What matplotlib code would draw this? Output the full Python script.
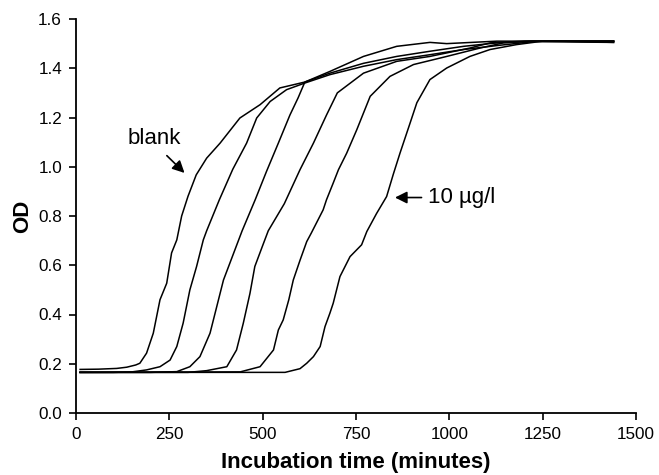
import matplotlib
matplotlib.use("Agg")
import matplotlib.pyplot as plt
from matplotlib.ticker import FormatStrFormatter

plt.rcParams['font.family'] = ['Liberation Sans', 'DejaVu Sans']

# curve 1: blank
t1 = [11, 60, 109, 136, 160, 171, 189, 207, 216, 225, 243, 256, 270, 283, 300, 322, 350, 386, 439, 493, 546, 613, 680, 770, 859, 948, 1038, 1127, 1224, 1300, 1440]
od1 = [0.177, 0.178, 0.181, 0.186, 0.195, 0.202, 0.243, 0.324, 0.392, 0.46, 0.527, 0.65, 0.703, 0.80, 0.88, 0.967, 1.035, 1.096, 1.198, 1.252, 1.32, 1.344, 1.38, 1.42, 1.448, 1.469, 1.489, 1.503, 1.51, 1.51, 1.505]
# curve 2
t2 = [11, 100, 150, 189, 225, 252, 270, 287, 305, 323, 341, 350, 384, 420, 457, 484, 520, 564, 613, 680, 770, 859, 948, 1038, 1127, 1224, 1440]
od2 = [0.165, 0.165, 0.167, 0.175, 0.188, 0.215, 0.27, 0.365, 0.5, 0.595, 0.703, 0.74, 0.866, 0.99, 1.096, 1.198, 1.265, 1.313, 1.34, 1.374, 1.408, 1.435, 1.455, 1.476, 1.492, 1.508, 1.505]
# curve 3
t3 = [11, 200, 270, 305, 332, 359, 377, 395, 410, 430, 445, 480, 510, 542, 573, 595, 613, 680, 770, 859, 948, 993, 1127, 1440]
od3 = [0.165, 0.165, 0.168, 0.188, 0.229, 0.324, 0.432, 0.54, 0.60, 0.68, 0.74, 0.866, 0.98, 1.096, 1.21, 1.28, 1.344, 1.387, 1.448, 1.489, 1.505, 1.50, 1.51, 1.51]
# curve 4
t4 = [11, 300, 350, 404, 430, 448, 466, 479, 500, 515, 558, 600, 636, 671, 700, 770, 859, 948, 1055, 1109, 1200, 1440]
od4 = [0.165, 0.165, 0.172, 0.188, 0.256, 0.364, 0.486, 0.595, 0.68, 0.74, 0.85, 0.988, 1.096, 1.21, 1.30, 1.38, 1.428, 1.448, 1.482, 1.503, 1.51, 1.51]
# curve 5
t5 = [11, 440, 493, 529, 542, 555, 570, 582, 600, 618, 630, 662, 671, 689, 703, 725, 752, 788, 841, 904, 993, 1082, 1145, 1224, 1440]
od5 = [0.165, 0.167, 0.188, 0.256, 0.337, 0.378, 0.46, 0.54, 0.62, 0.696, 0.73, 0.825, 0.866, 0.934, 0.988, 1.055, 1.15, 1.286, 1.367, 1.415, 1.448, 1.482, 1.503, 1.51, 1.51]
# curve 6: 10 ug/l
t6 = [11, 560, 600, 618, 636, 654, 667, 680, 689, 707, 734, 765, 779, 805, 832, 850, 868, 895, 913, 948, 993, 1055, 1109, 1180, 1250, 1440]
od6 = [0.165, 0.165, 0.18, 0.202, 0.229, 0.27, 0.351, 0.405, 0.446, 0.554, 0.635, 0.683, 0.737, 0.81, 0.879, 0.97, 1.056, 1.178, 1.26, 1.354, 1.401, 1.448, 1.476, 1.496, 1.51, 1.51]

series = [(t1, od1), (t2, od2), (t3, od3), (t4, od4), (t5, od5), (t6, od6)]

x_ticks = [0, 250, 500, 750, 1000, 1250, 1500]
y_ticks = [0.0, 0.2, 0.4, 0.6, 0.8, 1.0, 1.2, 1.4, 1.6]

fig = plt.figure(figsize=(6.59, 4.75), dpi=100)
ax = fig.add_axes([76/659, 1-413/475, 560/659, 394/475])

for t, od in series:
    ax.plot(t, od, color='black', linewidth=1.1)

ax.set_xlim(0, 1500)
ax.set_ylim(0, 1.6)
ax.set_xticks(x_ticks)
ax.set_yticks(y_ticks)
ax.yaxis.set_major_formatter(FormatStrFormatter('%.1f'))
ax.tick_params(direction='out', length=5, width=1.2, labelsize=12.3, colors='black', pad=5)
for s in ['top', 'right']:
    ax.spines[s].set_visible(False)
for s in ['left', 'bottom']:
    ax.spines[s].set_linewidth(1.3)

ax.set_xlabel('Incubation time (minutes)', fontsize=16, fontweight='bold', labelpad=7)
ax.set_ylabel('OD', fontsize=16, fontweight='bold', labelpad=4)

ax.annotate('', xy=(296, 0.967), xytext=(238, 1.053),
            arrowprops=dict(arrowstyle='-|>', color='black', lw=1.2, mutation_scale=18))
ax.text(209, 1.116, 'blank', fontsize=16, ha='center', va='center')
ax.annotate('', xy=(847, 0.875), xytext=(933, 0.875),
            arrowprops=dict(arrowstyle='-|>', color='black', lw=1.2, mutation_scale=18))
ax.text(943, 0.875, '10 µg/l', fontsize=16, ha='left', va='center')

fig.savefig('out.png', dpi=100)
